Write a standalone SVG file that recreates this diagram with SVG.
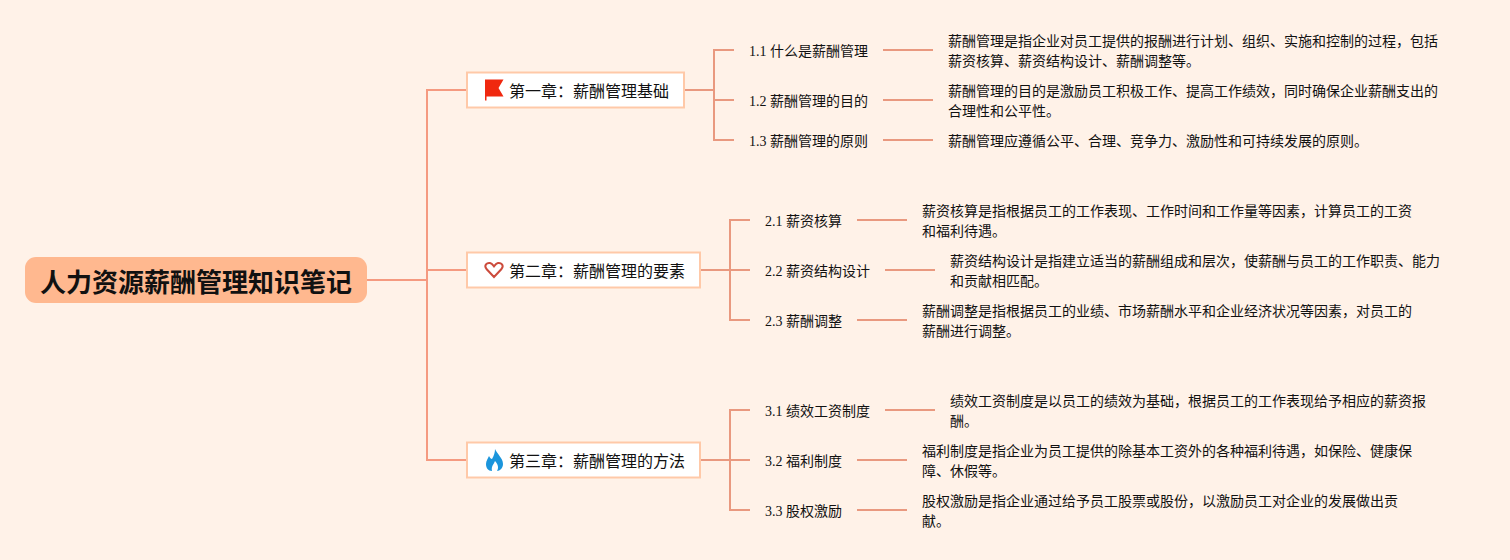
<svg xmlns="http://www.w3.org/2000/svg" width="1510" height="560" viewBox="0 0 1510 560">
<style>
text{font-family:"Liberation Serif","Noto Sans CJK SC",serif;fill:#111}
.root{font-size:26px;font-weight:700;fill:#111}
.ch{font-size:16px}
.sub,.leaf{font-size:14px}
.chbox{fill:#fff;stroke:#ffc9a8;stroke-width:2}
.l1{fill:none;stroke:#f59a80;stroke-width:2}
.l2{fill:none;stroke:#e9997f;stroke-width:2}
</style>
<rect width="1510" height="560" fill="#fff2e8"/>
<g id="connectors">
<path class="l1" d="M367 280H427M467 90H427V460H467M427 270H467"/>
<path class="l2" d="M685 90H714M734 50H714V140H734M714 100H734"/>
<path class="l2" d="M701 270H730M750 220H730V320H750M730 270H750"/>
<path class="l2" d="M701 460H730M750 410H730V510H750M730 460H750"/>
<path class="l2" d="M883 50H933M883 100H933M883 140H933"/>
<path class="l2" d="M857 220H907M885 270H935M857 320H907"/>
<path class="l2" d="M885 410H935M857 460H907M857 510H907"/>
</g>
<g id="root"><rect x="25" y="257" width="342" height="46" rx="11" fill="#ffb88f"/><text class="root" x="40" y="292">人力资源薪酬管理知识笔记</text></g>
<g id="ch1"><rect class="chbox" x="467" y="72.5" width="217" height="35"/>
<path d="M485 79.500H503.500L498.500 88L503.500 96.500H486.500V100.500H485Z" fill="#f0280f"/>
<text class="ch" x="509" y="97">第一章：薪酬管理基础</text></g>
<g id="ch2"><rect class="chbox" x="467" y="252.500" width="233" height="35"/>
<path d="M494 277L486.500 269C483.500 265 487 262.500 490 263C492 263.300 493 265 494 266.300C495 265 496 263.300 498 263C501 262.500 504.500 265 501.500 269Z" fill="none" stroke="#cc4b3c" stroke-width="2"/>
<text class="ch" x="509" y="277">第二章：薪酬管理的要素</text></g>
<g id="ch3"><rect class="chbox" x="467" y="442.500" width="233" height="35"/>
<path d="M495 449C497 454 503 458 503 464C503 468 500 471 497 471C499 468 498 464 495 461C494 464 491 466 492 471C488 471 486 468 486 464C486 461 488 458 489 456C490 458 491 459 492 459C494 456 495 452 495 449Z" fill="#1b95dc"/>
<text class="ch" x="509" y="467">第三章：薪酬管理的方法</text></g>
<g id="n11"><text class="sub" x="749" y="56">1.1 什么是薪酬管理</text></g>
<g id="n12"><text class="sub" x="749" y="106">1.2 薪酬管理的目的</text></g>
<g id="n13"><text class="sub" x="749" y="146">1.3 薪酬管理的原则</text></g>
<g id="t11"><text class="leaf" x="948" y="46">薪酬管理是指企业对员工提供的报酬进行计划、组织、实施和控制的过程，包括</text><text class="leaf" x="948" y="66">薪资核算、薪资结构设计、薪酬调整等。</text></g>
<g id="t12"><text class="leaf" x="948" y="96">薪酬管理的目的是激励员工积极工作、提高工作绩效，同时确保企业薪酬支出的</text><text class="leaf" x="948" y="116">合理性和公平性。</text></g>
<g id="t13"><text class="leaf" x="948" y="146">薪酬管理应遵循公平、合理、竞争力、激励性和可持续发展的原则。</text></g>
<g id="n21"><text class="sub" x="765" y="226">2.1 薪资核算</text></g>
<g id="n22"><text class="sub" x="765" y="276">2.2 薪资结构设计</text></g>
<g id="n23"><text class="sub" x="765" y="326">2.3 薪酬调整</text></g>
<g id="t21"><text class="leaf" x="922" y="216">薪资核算是指根据员工的工作表现、工作时间和工作量等因素，计算员工的工资</text><text class="leaf" x="922" y="236">和福利待遇。</text></g>
<g id="t22"><text class="leaf" x="950" y="266">薪资结构设计是指建立适当的薪酬组成和层次，使薪酬与员工的工作职责、能力</text><text class="leaf" x="950" y="286">和贡献相匹配。</text></g>
<g id="t23"><text class="leaf" x="922" y="316">薪酬调整是指根据员工的业绩、市场薪酬水平和企业经济状况等因素，对员工的</text><text class="leaf" x="922" y="336">薪酬进行调整。</text></g>
<g id="n31"><text class="sub" x="765" y="416">3.1 绩效工资制度</text></g>
<g id="n32"><text class="sub" x="765" y="466">3.2 福利制度</text></g>
<g id="n33"><text class="sub" x="765" y="516">3.3 股权激励</text></g>
<g id="t31"><text class="leaf" x="950" y="406">绩效工资制度是以员工的绩效为基础，根据员工的工作表现给予相应的薪资报</text><text class="leaf" x="950" y="426">酬。</text></g>
<g id="t32"><text class="leaf" x="922" y="456">福利制度是指企业为员工提供的除基本工资外的各种福利待遇，如保险、健康保</text><text class="leaf" x="922" y="476">障、休假等。</text></g>
<g id="t33"><text class="leaf" x="922" y="506">股权激励是指企业通过给予员工股票或股份，以激励员工对企业的发展做出贡</text><text class="leaf" x="922" y="526">献。</text></g>
</svg>
